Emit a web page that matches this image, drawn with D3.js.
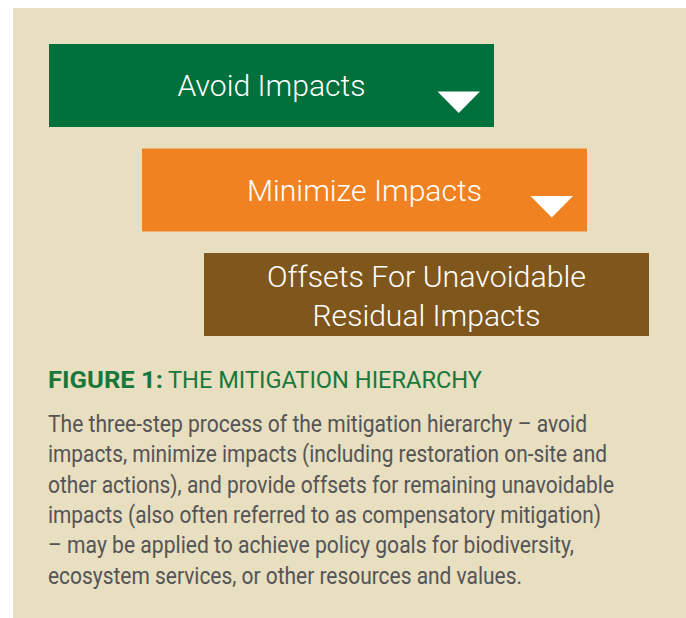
<!DOCTYPE html>
<html>
<head>
<meta charset="utf-8">
<script src="https://cdn.jsdelivr.net/npm/d3@7"></script>
<style>
  html, body { margin: 0; padding: 0; background: #fff; }
  svg { display: block; }
</style>
</head>
<body>
<div id="chart"></div>
<script>
// the three steps of the hierarchy
var steps = ["avoid", "minimize", "offset"];
var stepLabels = [
    ["Avoid Impacts"],
    ["Minimize Impacts"],
    ["Offsets For Unavoidable", "Residual Impacts"]
];
var stepColors = ["#00703c", "#f18221", "#7f561c"];
var stepArrow = [true, true, false];

var captionBold = "FIGURE 1:";
var captionRest = "THE MITIGATION HIERARCHY";
var bodyLines = [
    "The three-step process of the mitigation hierarchy \u2013 avoid",
    "impacts, minimize impacts (including restoration on-site and",
    "other actions), and provide offsets for remaining unavoidable",
    "impacts (also often referred to as compensatory mitigation)",
    "\u2013 may be applied to achieve policy goals for biodiversity,",
    "ecosystem services, or other resources and values."
];

var W = 686, H = 618;

var svg = d3.select("#chart").append("svg")
    .attr("width", W)
    .attr("height", H);

// beige panel
svg.append("rect")
    .attr("x", 13).attr("y", 8)
    .attr("width", W - 13).attr("height", H - 8)
    .attr("fill", "#e8dec0");

// rows
var y = d3.scaleBand()
    .domain(steps)
    .range([44, 336])
    .paddingInner(0.206);

// indent of each box
var x = d3.scaleOrdinal()
    .domain(steps)
    .range([49, 142, 204]);

var boxW = 445;

var labelWidths = [[188], [235], [319, 228]];
var labelBase = [[96], [201], [287, 326]];

var g = svg.selectAll(".step")
    .data(steps)
    .enter().append("g")
    .attr("class", "step");

g.append("rect")
    .attr("x", function(d) { return x(d); })
    .attr("y", function(d) { return y(d); })
    .attr("width", boxW)
    .attr("height", y.bandwidth())
    .attr("fill", function(d, i) { return stepColors[i]; });

g.each(function(d, i) {
    var el = d3.select(this);
    var cx = x(d) + boxW / 2;
    stepLabels[i].forEach(function(line, j) {
        el.append("text")
            .attr("x", cx)
            .attr("y", labelBase[i][j])
            .attr("text-anchor", "middle")
            .attr("fill", "#fff")
            .style("font-family", "Roboto, 'Liberation Sans', sans-serif")
            .style("font-weight", 300)
            .style("font-size", "30px")
            .attr("textLength", labelWidths[i][j])
            .attr("lengthAdjust", "spacingAndGlyphs")
            .text(line);
    });
    if (stepArrow[i]) {
        var r = x(d) + boxW - 14, t = y(d) + 47.5;
        el.append("path")
            .attr("d", "M" + (r - 42.5) + "," + t + "L" + r + "," + t +
                "L" + (r - 21.25) + "," + (t + 21.5) + "Z")
            .attr("fill", "#fff");
    }
});

// caption
var cap = svg.append("text")
    .attr("x", 48)
    .attr("y", 388)
    .attr("fill", "#17783d")
    .style("font-family", "Roboto, sans-serif")
    .style("font-size", "23px");
cap.append("tspan")
    .attr("font-weight", "bold")
    .attr("textLength", 115)
    .attr("lengthAdjust", "spacingAndGlyphs")
    .text(captionBold);
cap.append("tspan")
    .attr("x", 168)
    .attr("textLength", 314)
    .attr("lengthAdjust", "spacingAndGlyphs")
    .text(captionRest);

// body paragraph
var bodyEnds = [587, 607, 614, 601, 574, 522];
svg.selectAll(".body")
    .data(bodyLines)
    .enter().append("text")
    .attr("class", "body")
    .attr("x", 48)
    .attr("y", function(d, i) { return 432 + i * 30.3; })
    .attr("fill", "#545456")
    .style("font-family", "Roboto, sans-serif")
    .style("font-size", "23px")
    .attr("textLength", function(d, i) { return bodyEnds[i] - 48; })
    .attr("lengthAdjust", "spacingAndGlyphs")
    .text(function(d) { return d; });
</script>
</body>
</html>
